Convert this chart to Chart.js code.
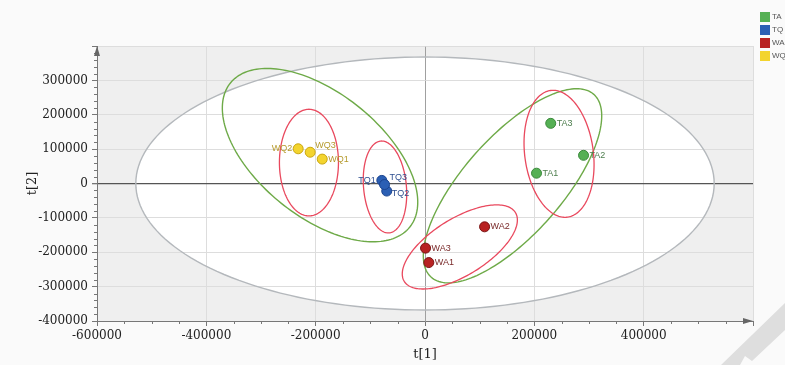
<!DOCTYPE html>
<html>
<head>
<meta charset="utf-8">
<script src="https://cdn.jsdelivr.net/npm/chart.js@4"></script>
<style>
  html, body { margin: 0; padding: 0; background: #fafafa; }
  #wrap { width: 785px; height: 365px; }
</style>
</head>
<body>
<div id="wrap"><canvas id="c" width="785" height="365"></canvas></div>
<script>
// PCA score plot, t[1] vs t[2]
const seriesNames = ['TA', 'TQ', 'WA', 'WQ'];

const taNames = ['TA1', 'TA2', 'TA3'];
const taX = [204000, 290000, 230000];
const taY = [30000, 82000, 175000];

const tqNames = ['TQ1', 'TQ2', 'TQ3'];
const tqX = [-79000, -70000, -74000];
const tqY = [9000, -22000, -3000];

const waNames = ['WA1', 'WA2', 'WA3'];
const waX = [7000, 109000, 1000];
const waY = [-230000, -126000, -188000];

const wqNames = ['WQ1', 'WQ2', 'WQ3'];
const wqX = [-188000, -232000, -210000];
const wqY = [71000, 101000, 91000];

const xTicks = [-600000, -400000, -200000, 0, 200000, 400000];
const yTicks = [-400000, -300000, -200000, -100000, 0, 100000, 200000, 300000];

// Confidence ellipses in score units: centre c, conjugate semi-axes u and v
const hotellingEllipse = { c: [0, 0], u: [529000, 0], v: [0, 368000] };
const groupEllipses = [
  { c: [-192000, 82600], u: [163900, -209900], v: [-71300, -139700] },
  { c: [160100, -6700], u: [148600, 266100], v: [67400, -94500] }
];
const classEllipses = [
  { c: [-212300, 60900], u: [54000, 0], v: [0, 155100] },
  { c: [-73200, -10100], u: [7700, -133600], v: [-39000, -5600] },
  { c: [245200, 86400], u: [15300, -184200], v: [-62200, -13000] },
  { c: [63700, -184600], u: [101600, 100300], v: [27600, -70100] }
];

// label side for samples whose name does not sit to the right of the dot
const labelSide = { WQ2: 'left', WQ3: 'upright', TQ1: 'left', TQ3: 'upright', TQ2: 'downright' };

const palette = {
  TA: { fill: '#55b054', border: '#3c8a3c', text: '#4f7f4f' },
  TQ: { fill: '#2b5fb4', border: '#1c4590', text: '#2f4f8f' },
  WA: { fill: '#b82222', border: '#7c1414', text: '#7a2a2a' },
  WQ: { fill: '#f3d42e', border: '#caa712', text: '#b59a2c' }
};

function makeSet(name, names, xs, ys) {
  return {
    label: name,
    names: names,
    data: xs.map((x, i) => ({ x: x, y: ys[i] })),
    backgroundColor: palette[name].fill,
    borderColor: palette[name].border,
    borderWidth: 1,
    pointRadius: 5,
    pointHoverRadius: 5
  };
}

function tracePath(ctx, xs, ys, e) {
  ctx.beginPath();
  const n = 180;
  for (let i = 0; i <= n; i++) {
    const t = (i / n) * Math.PI * 2;
    const vx = e.c[0] + e.u[0] * Math.cos(t) + e.v[0] * Math.sin(t);
    const vy = e.c[1] + e.u[1] * Math.cos(t) + e.v[1] * Math.sin(t);
    const px = xs.getPixelForValue(vx);
    const py = ys.getPixelForValue(vy);
    if (i === 0) ctx.moveTo(px, py); else ctx.lineTo(px, py);
  }
  ctx.closePath();
}

const backdrop = {
  id: 'backdrop',
  beforeDraw(chart) {
    const { ctx, chartArea: a, scales } = chart;
    ctx.save();
    ctx.fillStyle = '#fafafa';
    ctx.fillRect(0, 0, chart.width, chart.height);
    ctx.fillStyle = '#efefef';
    ctx.fillRect(a.left, a.top, a.right - a.left, a.bottom - a.top);
    tracePath(ctx, scales.x, scales.y, hotellingEllipse);
    ctx.fillStyle = '#ffffff';
    ctx.fill();
    ctx.restore();
  }
};

const ellipses = {
  id: 'ellipses',
  beforeDatasetsDraw(chart) {
    const { ctx, scales } = chart;
    ctx.save();
    tracePath(ctx, scales.x, scales.y, hotellingEllipse);
    ctx.strokeStyle = '#b4b8bc';
    ctx.lineWidth = 1.4;
    ctx.stroke();
    groupEllipses.forEach(e => {
      tracePath(ctx, scales.x, scales.y, e);
      ctx.strokeStyle = '#6eaa48';
      ctx.lineWidth = 1.4;
      ctx.stroke();
    });
    classEllipses.forEach(e => {
      tracePath(ctx, scales.x, scales.y, e);
      ctx.strokeStyle = '#e9495e';
      ctx.lineWidth = 1.3;
      ctx.stroke();
    });
    ctx.restore();
  }
};

const pointNames = {
  id: 'pointNames',
  afterDatasetsDraw(chart) {
    const ctx = chart.ctx;
    ctx.save();
    ctx.font = '9px "Liberation Sans", Arial, sans-serif';
    chart.data.datasets.forEach((ds, di) => {
      const meta = chart.getDatasetMeta(di);
      meta.data.forEach((pt, i) => {
        const name = ds.names[i];
        const side = labelSide[name] || 'right';
        let x = pt.x + 6, y = pt.y, align = 'left';
        if (side === 'left') { x = pt.x - 6; align = 'right'; }
        if (side === 'upright') { x = pt.x + 5; y = pt.y - 7; }
        if (side === 'downright') { x = pt.x + 5; y = pt.y + 2; }
        ctx.fillStyle = palette[ds.label].text;
        ctx.textAlign = align;
        ctx.textBaseline = 'middle';
        ctx.fillText(name, x, y);
      });
    });
    ctx.restore();
  }
};

const axisDecor = {
  id: 'axisDecor',
  afterDraw(chart) {
    const { ctx, chartArea: a, scales } = chart;
    ctx.save();
    ctx.strokeStyle = '#777';
    ctx.lineWidth = 1;
    // minor ticks
    for (let v = scales.y.min; v <= scales.y.max; v += 20000) {
      if (v % 100000 === 0) continue;
      const py = Math.round(scales.y.getPixelForValue(v)) + 0.5;
      ctx.beginPath(); ctx.moveTo(a.left - 3, py); ctx.lineTo(a.left, py); ctx.stroke();
    }
    for (let v = scales.x.min; v <= scales.x.max; v += 50000) {
      if (v % 200000 === 0) continue;
      const px = Math.round(scales.x.getPixelForValue(v)) + 0.5;
      ctx.beginPath(); ctx.moveTo(px, a.bottom); ctx.lineTo(px, a.bottom + 3); ctx.stroke();
    }
    // axis arrows
    ctx.fillStyle = '#666';
    ctx.beginPath();
    ctx.moveTo(a.left, a.top);
    ctx.lineTo(a.left - 3, a.top + 10);
    ctx.lineTo(a.left + 3, a.top + 10);
    ctx.closePath(); ctx.fill();
    ctx.beginPath();
    ctx.moveTo(a.right, a.bottom);
    ctx.lineTo(a.right - 10, a.bottom - 3);
    ctx.lineTo(a.right - 10, a.bottom + 3);
    ctx.closePath(); ctx.fill();

    // legend
    ctx.font = '8px "Liberation Sans", Arial, sans-serif';
    ctx.textAlign = 'left';
    ctx.textBaseline = 'middle';
    seriesNames.forEach((n, i) => {
      const cy = 17 + i * 13;
      ctx.fillStyle = palette[n].fill;
      ctx.fillRect(760, cy - 5, 10, 10);
      ctx.fillStyle = '#555';
      ctx.fillText(n, 772, cy);
    });

    // corner page mark
    ctx.fillStyle = '#dedede';
    ctx.beginPath();
    ctx.moveTo(721, 365);
    ctx.lineTo(785, 303);
    ctx.lineTo(785, 330);
    ctx.lineTo(752, 361);
    ctx.lineTo(745, 356);
    ctx.lineTo(740, 365);
    ctx.closePath(); ctx.fill();
    ctx.restore();
  }
};

const tickFont = { family: '"DejaVu Serif", "Liberation Serif", serif', size: 12 };

new Chart(document.getElementById('c'), {
  type: 'scatter',
  data: {
    datasets: [
      makeSet('TA', taNames, taX, taY),
      makeSet('TQ', tqNames, tqX, tqY),
      makeSet('WA', waNames, waX, waY),
      makeSet('WQ', wqNames, wqX, wqY)
    ]
  },
  options: {
    responsive: false,
    animation: false,
    layout: { padding: { top: 46, right: 32, left: 0, bottom: 0 } },
    plugins: { legend: { display: false }, tooltip: { enabled: false } },
    scales: {
      x: {
        type: 'linear',
        min: -600000,
        max: 600000,
        afterFit(s) { s.height = 44; },
        afterBuildTicks(s) { s.ticks = xTicks.concat([600000]).map(v => ({ value: v })); },
        ticks: {
          autoSkip: false, maxRotation: 0, padding: 3, color: '#222', font: tickFont,
          callback: v => (xTicks.includes(v) ? String(v) : '')
        },
        grid: {
          color: c => (c.tick && c.tick.value === 0 ? '#a0a0a0' : '#dddddd'),
          tickColor: '#777', tickLength: 5
        },
        border: { color: '#777' },
        title: { display: true, text: 't[1]', color: '#222', font: { family: tickFont.family, size: 13 }, padding: { bottom: 3 } }
      },
      y: {
        type: 'linear',
        min: -400000,
        max: 400000,
        afterFit(s) { s.width = 97; },
        afterBuildTicks(s) { s.ticks = yTicks.concat([400000]).map(v => ({ value: v })); },
        ticks: {
          autoSkip: false, padding: 4, color: '#222', font: tickFont,
          callback: v => (yTicks.includes(v) ? String(v) : '')
        },
        grid: {
          color: c => (c.tick && c.tick.value === 0 ? '#555555' : '#dddddd'),
          lineWidth: c => (c.tick && c.tick.value === 0 ? 1.3 : 1),
          tickColor: '#777', tickLength: 5
        },
        border: { color: '#777' },
        title: { display: true, text: 't[2]', color: '#222', font: { family: tickFont.family, size: 13 }, padding: { top: 25 } }
      }
    }
  },
  plugins: [backdrop, ellipses, pointNames, axisDecor]
});
</script>
</body>
</html>
